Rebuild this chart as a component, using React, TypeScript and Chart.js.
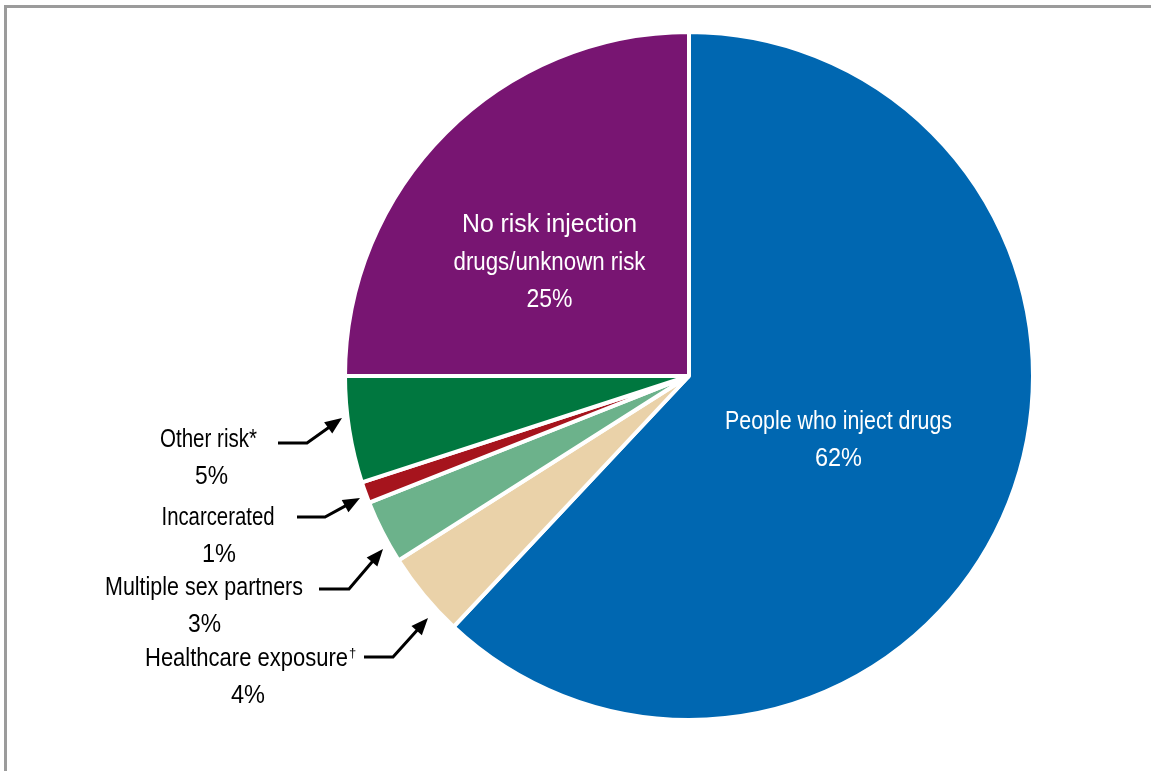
import React, { useEffect, useRef } from "react";
import { Chart, registerables } from "chart.js";

Chart.register(...registerables);

const categories = [
  "People who inject drugs",
  "Healthcare exposure",
  "Multiple sex partners",
  "Incarcerated",
  "Other risk*",
  "No risk injection drugs/unknown risk",
];
const values = [62, 4, 3, 1, 5, 25];
const colors = ["#0067B1", "#EAD2A9", "#6CB28B", "#A6141D", "#00773F", "#781572"];

// inner labels (white), drawn on slices 0 and 5
const innerLabelLines = [
  ["People who inject drugs", "62%"],
  ["No risk injection", "drugs/unknown risk", "25%"],
];
// outer labels (black, with arrows)
const outerLabelLines = [
  ["Other risk*", "5%"],
  ["Incarcerated", "1%"],
  ["Multiple sex partners", "3%"],
  ["Healthcare exposure", "4%"],
];

const FONT = "Arial, 'Liberation Sans', sans-serif";

function drawArrow(ctx: CanvasRenderingContext2D, pts: number[][]) {
  const [a, b, c] = pts;
  const ang = Math.atan2(c[1] - b[1], c[0] - b[0]);
  const headLen = 17;
  const headW = 7;
  const baseX = c[0] - headLen * Math.cos(ang);
  const baseY = c[1] - headLen * Math.sin(ang);
  ctx.save();
  ctx.strokeStyle = "#000";
  ctx.fillStyle = "#000";
  ctx.lineWidth = 3;
  ctx.lineJoin = "miter";
  ctx.beginPath();
  ctx.moveTo(a[0], a[1]);
  ctx.lineTo(b[0], b[1]);
  ctx.lineTo(baseX + 2 * Math.cos(ang), baseY + 2 * Math.sin(ang));
  ctx.stroke();
  ctx.beginPath();
  ctx.moveTo(c[0], c[1]);
  ctx.lineTo(baseX - headW * Math.sin(ang), baseY + headW * Math.cos(ang));
  ctx.lineTo(baseX + headW * Math.sin(ang), baseY - headW * Math.cos(ang));
  ctx.closePath();
  ctx.fill();
  ctx.restore();
}

const labelPlugin = {
  id: "labelPlugin",
  beforeDraw(chart: any) {
    const ctx = chart.ctx as CanvasRenderingContext2D;
    ctx.save();
    ctx.fillStyle = "#9B9B9B";
    ctx.fillRect(4, 5, chart.width - 4, 3);
    ctx.fillRect(4, 5, 3, chart.height - 5);
    ctx.restore();
  },
  afterDraw(chart: any) {
    const ctx = chart.ctx as CanvasRenderingContext2D;
    const arc = chart.getDatasetMeta(0).data[0];
    const cx = arc.x;
    const cy = arc.y;
    const s = (arc.outerRadius - 2) / 342;
    const P = (dx: number, dy: number) => [cx + dx * s, cy + dy * s];

    ctx.save();
    ctx.textAlign = "center";
    ctx.textBaseline = "alphabetic";
    ctx.font = `25px ${FONT}`;

    // inner labels
    ctx.fillStyle = "#FFFFFF";
    const blueW = [227, 47];
    innerLabelLines[0].forEach((t, i) => {
      const [x, y] = P(149.5, 53 + i * 37);
      ctx.fillText(t, x, y, blueW[i]);
    });
    const purpW = [175, 192, 46];
    innerLabelLines[1].forEach((t, i) => {
      const [x, y] = P(-139.5, -144 + i * 37.5);
      ctx.fillText(t, x, y, purpW[i]);
    });

    // outer labels
    ctx.fillStyle = "#000000";
    const outerPos = [
      { x1: -480.5, x2: -477.5, y: 70.7, w: [97, 33] },
      { x1: -471, x2: -470, y: 149, w: [113, 34] },
      { x1: -485, x2: -484.5, y: 219, w: [198, 33] },
      { x1: -442.5, x2: -441, y: 290, w: [203, 34] },
    ];
    const arrows = [
      [[-411, 67], [-382, 67], [-347, 42]],
      [[-392, 141], [-364, 141], [-329, 122]],
      [[-370, 213], [-340, 213], [-306, 173]],
      [[-325, 281], [-296, 281], [-261, 242]],
    ];
    outerLabelLines.forEach((lines, k) => {
      const p = outerPos[k];
      const [x1, y1] = P(p.x1, p.y);
      ctx.font = `25px ${FONT}`;
      ctx.fillText(lines[0], x1, y1, p.w[0]);
      const [x2, y2] = P(p.x2, p.y + 37);
      ctx.fillText(lines[1], x2, y2, p.w[1]);
      drawArrow(ctx, arrows[k].map(([dx, dy]) => P(dx, dy)));
    });
    // superscript dagger
    const [dx, dy] = P(-340, 281);
    ctx.font = `13px ${FONT}`;
    ctx.textAlign = "left";
    ctx.fillText("\u2020", dx, dy);
    ctx.restore();
  },
};

export default function App() {
  const ref = useRef<HTMLCanvasElement | null>(null);
  useEffect(() => {
    if (!ref.current) return;
    const chart = new Chart(ref.current, {
      type: "pie",
      data: {
        labels: categories,
        datasets: [
          {
            data: values,
            backgroundColor: colors,
            borderColor: "#FFFFFF",
            borderWidth: 4,
            hoverBorderWidth: 4,
            hoverOffset: 0,
            offset: 0,
          },
        ],
      },
      options: {
        responsive: false,
        animation: false,
        layout: { padding: { left: 343, right: 116, top: 30, bottom: 49 } },
        plugins: {
          legend: { display: false },
          tooltip: { enabled: false },
        },
      },
      plugins: [labelPlugin],
    });
    return () => chart.destroy();
  }, []);
  return (
    <div style={{ position: "fixed", left: 0, top: 0, width: 1151, height: 771, background: "#fff" }}>
      <canvas ref={ref} width={1151} height={771} style={{ display: "block", width: 1151, height: 771 }} />
    </div>
  );
}
